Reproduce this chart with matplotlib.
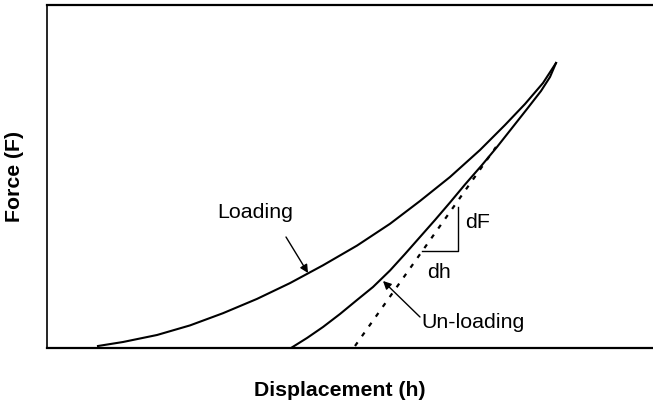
import matplotlib
matplotlib.use("Agg")
import matplotlib.pyplot as plt

plt.rcParams['font.family'] = ['Liberation Sans', 'DejaVu Sans']

# Loading curve (displacement, force) in arbitrary units
load_h = [51, 76, 110, 143, 176, 210, 243, 276, 310, 343, 373, 403, 433, 458, 478, 496, 509]
load_F = [2, 6, 13, 22.6, 34.8, 49.1, 64.9, 82.7, 102.4, 124.2, 147, 171, 198, 223, 244, 265, 285]

# Unloading curve
unload_h = [244, 260, 276, 293, 310, 326, 343, 358, 373, 388, 403, 418, 435, 450, 465, 480, 494, 503, 509]
unload_F = [0, 10, 21, 34, 48, 61, 77.5, 94, 111, 128, 145.5, 163.5, 183, 201, 220, 239, 257, 271, 285]

# Tangent (stiffness) line
tan_h = [308, 449]
tan_F = [2, 201]

# Slope triangle
tri_h = [375, 411, 411]
tri_F = [97, 97, 141]

fig = plt.figure(figsize=(6.53, 4.08), dpi=100)
ax = fig.add_axes([47/653, 60/408, 606/653, 343/408])
ax.set_xlim(0, 606)
ax.set_ylim(0, 343)

ax.plot(load_h, load_F, color='black', lw=1.5, solid_joinstyle='round')
ax.plot(unload_h, unload_F, color='black', lw=1.5, solid_joinstyle='round')
ax.plot(tan_h, tan_F, color='black', lw=1.6, linestyle=(0, (2, 3.4)))
ax.plot(tri_h, tri_F, color='black', lw=1.0)

fs = 15.4
ax.text(208, 136, 'Loading', fontsize=fs, ha='center', va='center')
ax.text(431, 125, 'dF', fontsize=fs, ha='center', va='center')
ax.text(392, 75, 'dh', fontsize=fs, ha='center', va='center')
ax.text(426, 25, 'Un-loading', fontsize=fs, ha='center', va='center')

arrow = dict(arrowstyle='-|>', color='black', lw=1.0, mutation_scale=12,
             shrinkA=0, shrinkB=0)
ax.annotate('', xy=(261, 75), xytext=(239, 111), arrowprops=arrow)
ax.annotate('', xy=(336, 67), xytext=(373, 31), arrowprops=arrow)

ax.set_xticks([])
ax.set_yticks([])
ax.spines['right'].set_visible(False)
for s in ['top', 'bottom']:
    ax.spines[s].set_linewidth(1.6)
ax.spines['left'].set_linewidth(1.2)

fig.text(340/653, 1 - 390/408, 'Displacement (h)', fontsize=15.3, fontweight='bold',
         ha='center', va='center')
fig.text(15/653, 1 - 176/408, 'Force (F)', fontsize=15.3, fontweight='bold',
         ha='center', va='center', rotation=90)

fig.savefig('out.png', dpi=100)
